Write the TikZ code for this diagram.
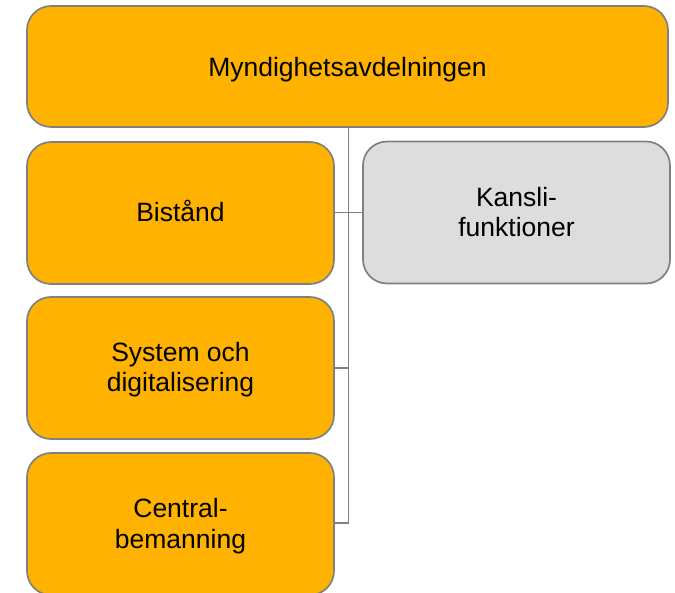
\documentclass[tikz,border=0pt]{standalone}
\usepackage{fontspec}
\setmainfont{Liberation Sans}
\definecolor{orng}{HTML}{FFB300}
\definecolor{lgray}{HTML}{DDDDDD}
\definecolor{bgray}{HTML}{808080}
\begin{document}
\begin{tikzpicture}[x=1pt,y=-1pt,
  box/.style={draw=bgray, line width=1.7pt, rounded corners=24pt, fill=orng,
    inner sep=0pt, minimum width=307pt, minimum height=142pt},
  txt/.style={inner sep=0pt, anchor=base, font=\fontsize{26.5}{30}\selectfont},
  conn/.style={draw=bgray, line width=1.7pt}]
\useasboundingbox (0,0) rectangle (675,593);
\node[box, minimum width=641pt, minimum height=121pt] (top) at (347.5,66.5) {};
\node[box] (bist) at (180.5,213) {};
\node[box] (sys) at (180.5,368) {};
\node[box] (cent) at (180.5,524) {};
\node[box, fill=lgray] (kans) at (516.5,212.5) {};
\node[txt] (topt) at ([yshift=-10.5pt]top.center) {Myndighetsavdelningen};
\node[txt] (bistt) at ([yshift=-9pt]bist.center) {Bistånd};
\node[txt] (syst1) at ([yshift=6pt]sys.center) {System och};
\node[txt] (syst2) at ([yshift=-24pt]sys.center) {digitalisering};
\node[txt] (centt1) at ([yshift=6pt]cent.center) {Central-};
\node[txt] (centt2) at ([yshift=-24pt]cent.center) {bemanning};
\node[txt] (kanst1) at ([yshift=5.5pt]kans.center) {Kansli-};
\node[txt] (kanst2) at ([yshift=-24.5pt]kans.center) {funktioner};
\coordinate (trunk) at (348.5,523);
\draw[conn] (top.south -| trunk) -- (trunk) -- (cent.east |- trunk);
\draw[conn] (kans.west -| bist.east) -- (kans.west);
\draw[conn] (sys.east) -- (sys.east -| trunk);
\end{tikzpicture}
\end{document}
